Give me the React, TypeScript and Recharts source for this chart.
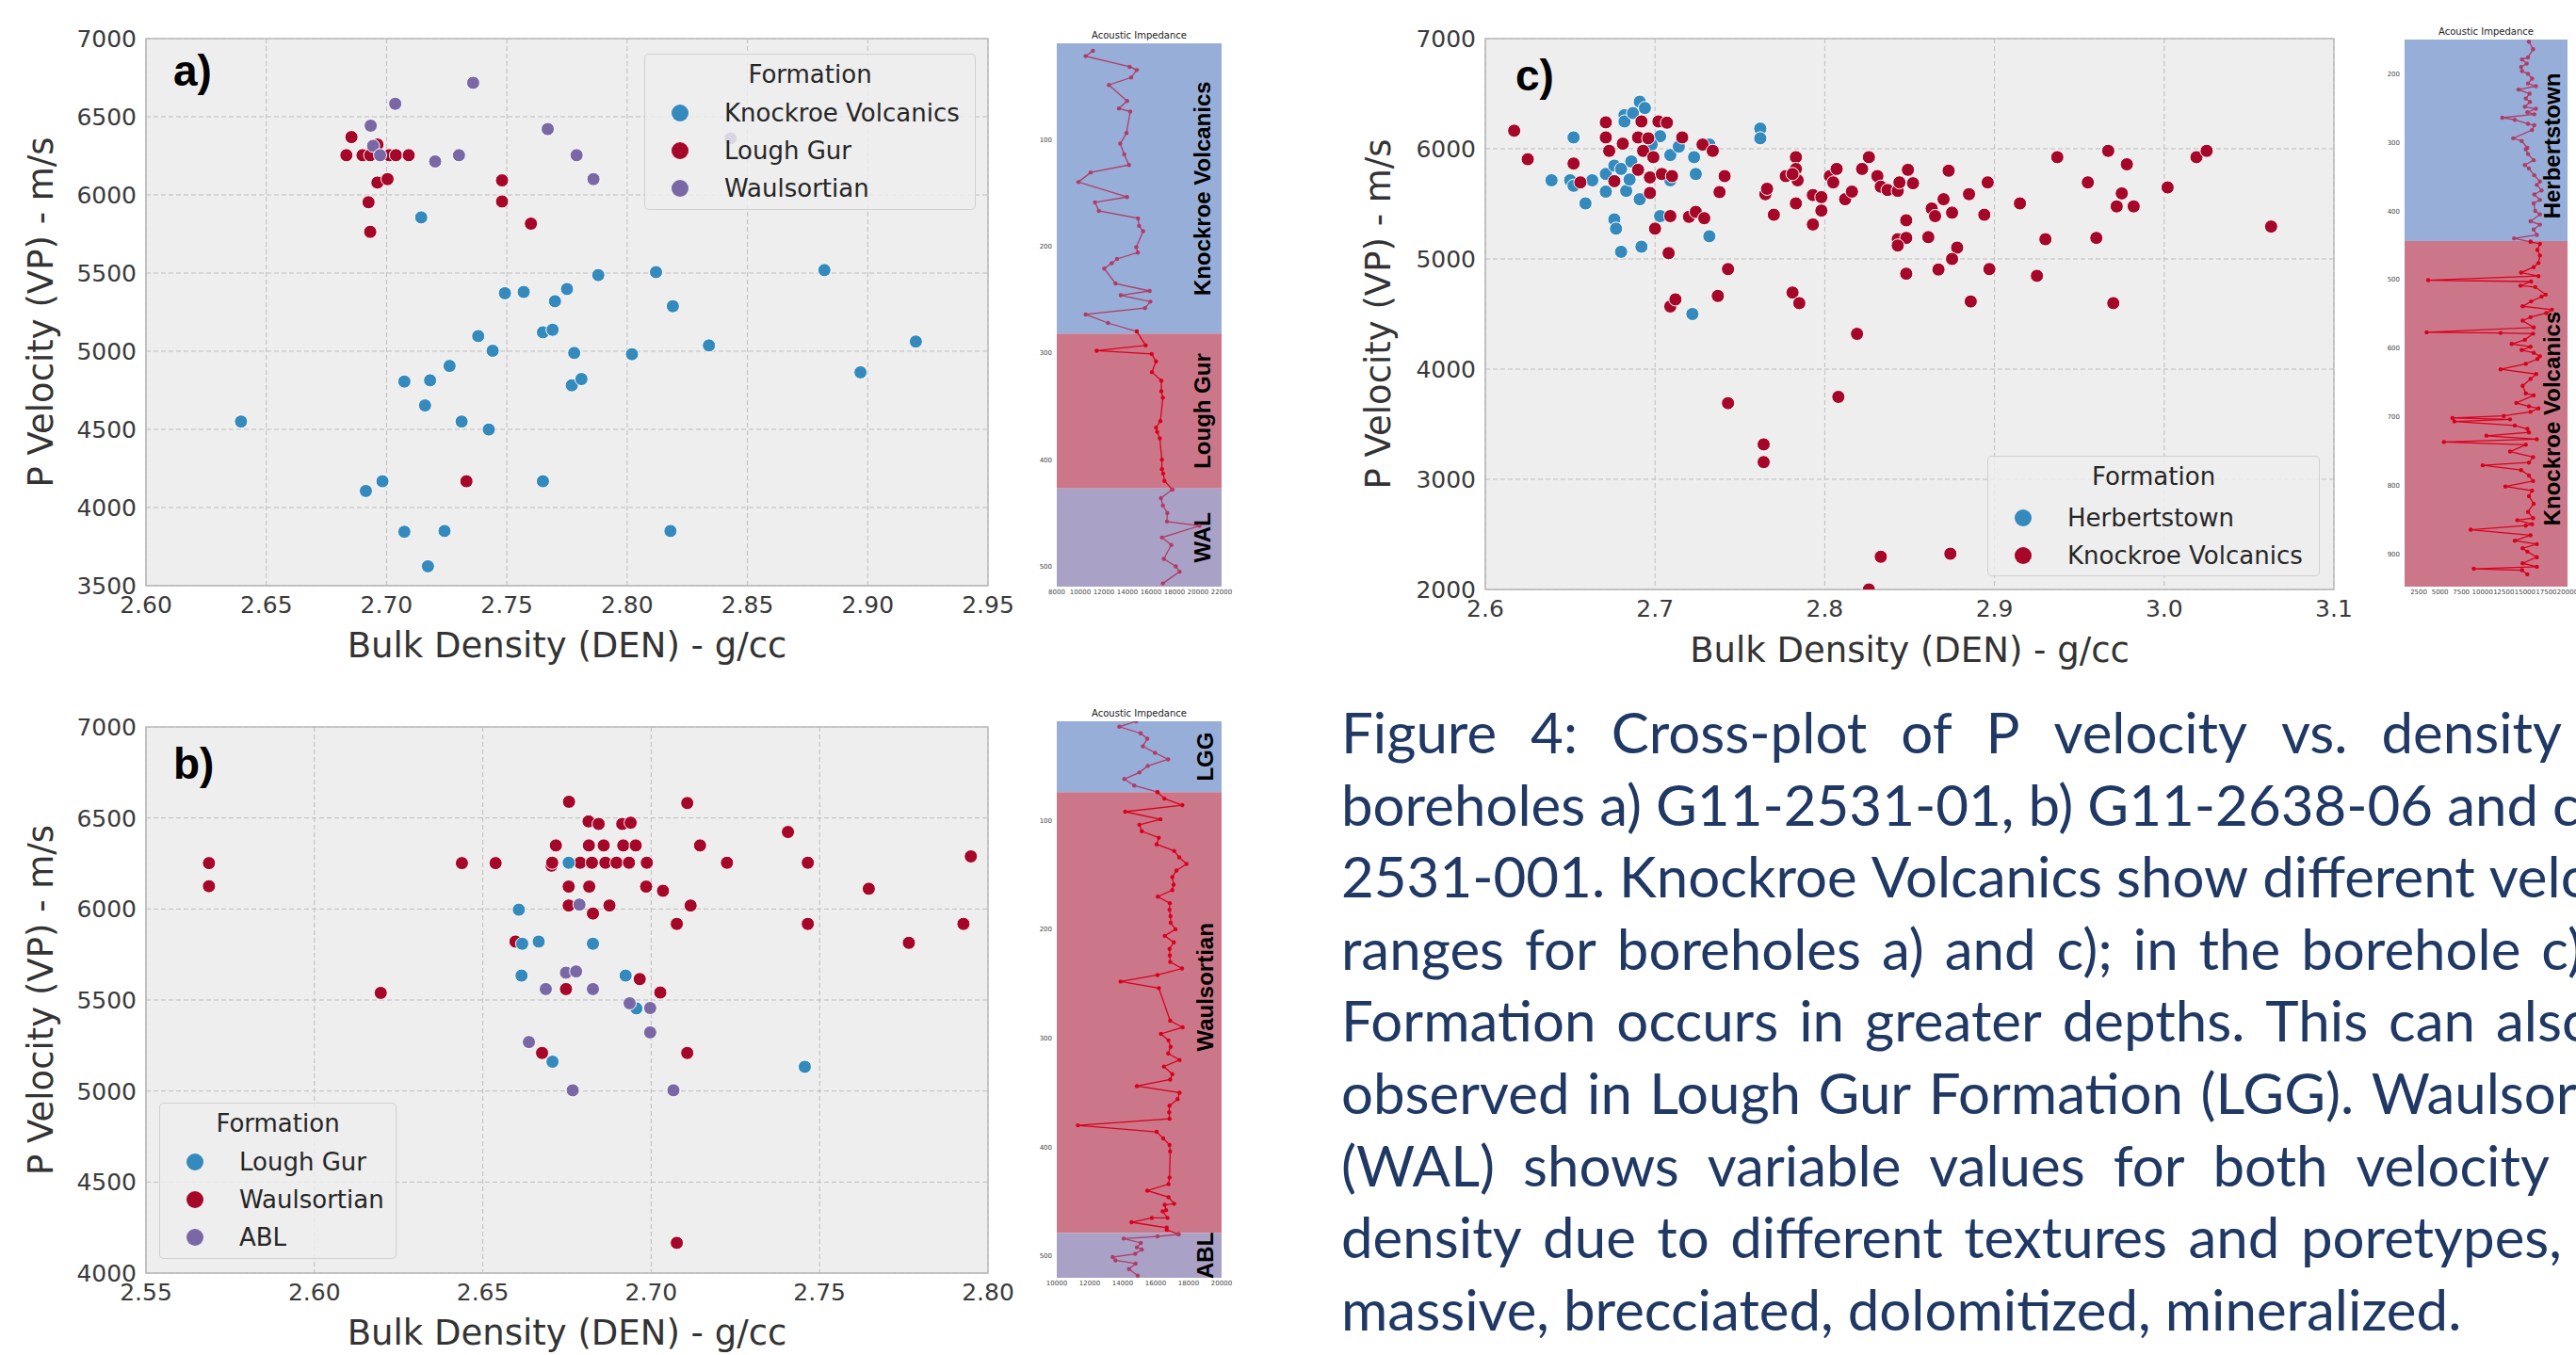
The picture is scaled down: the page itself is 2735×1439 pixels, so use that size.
import React from "react";
import {
  ScatterChart,
  Scatter,
  XAxis,
  YAxis,
  CartesianGrid,
  ReferenceArea,
  Legend,
} from "recharts";

// ---------- cross-plot a) G11-2531-01  [density g/cc, Vp m/s] ----------
const aKnockroe: [number, number][] = [
  [2.6395, 4550], [2.7144, 5856], [2.7492, 5371], [2.7381, 5097], [2.7441, 5003],
  [2.7262, 4906], [2.7074, 4806], [2.7181, 4814], [2.716, 4653], [2.7312, 4550],
  [2.7425, 4499], [2.6914, 4106], [2.6983, 4168], [2.7074, 3845], [2.7241, 3850],
  [2.7172, 3624], [2.757, 5379], [2.775, 5398], [2.77, 5320], [2.788, 5487],
  [2.812, 5506], [2.819, 5288], [2.765, 5121], [2.769, 5137], [2.778, 4989],
  [2.802, 4981], [2.834, 5037], [2.882, 5519], [2.92, 5062], [2.897, 4865],
  [2.777, 4782], [2.781, 4822], [2.765, 4168], [2.818, 3850],
];
const aLoughGur: [number, number][] = [
  [2.6854, 6370], [2.6833, 6254], [2.69, 6254], [2.6962, 6322], [2.7011, 6254],
  [2.7039, 6254], [2.7092, 6254], [2.6932, 6254], [2.6962, 6079], [2.7004, 6101],
  [2.6925, 5953], [2.6932, 5764], [2.7332, 4168], [2.748, 6093], [2.748, 5958],
  [2.76, 5816],
];
const aWaulsortian: [number, number][] = [
  [2.736, 6717], [2.7036, 6583], [2.6934, 6443], [2.6944, 6314], [2.6973, 6254],
  [2.7202, 6214], [2.7301, 6254], [2.767, 6421], [2.779, 6254], [2.786, 6101],
  [2.843, 6362],
];
const aDenTicks = [2.6, 2.65, 2.7, 2.75, 2.8, 2.85, 2.9, 2.95];
const aVpTicks = [3500, 4000, 4500, 5000, 5500, 6000, 6500, 7000];

// ---------- cross-plot b) G11-2638-06 ----------
const bLoughGur: [number, number][] = [
  [2.6755, 6254], [2.6607, 5996], [2.6617, 5809], [2.6666, 5821], [2.6827, 5809],
  [2.6615, 5634], [2.6924, 5634], [2.6956, 5454], [2.6707, 5161], [2.7456, 5133],
];
const bWaulsortian: [number, number][] = [
  [2.5687, 6252], [2.5687, 6125], [2.6197, 5539], [2.6438, 6252], [2.6538, 6252],
  [2.6597, 5821], [2.6756, 6589], [2.7107, 6582], [2.6814, 6481], [2.6844, 6467],
  [2.6914, 6467], [2.6939, 6474], [2.6717, 6349], [2.6815, 6349], [2.6859, 6349],
  [2.6917, 6349], [2.6954, 6349], [2.7145, 6349], [2.7406, 6423], [2.7949, 6289],
  [2.6704, 6238], [2.6706, 6254], [2.6789, 6254], [2.6824, 6254], [2.6864, 6254],
  [2.6897, 6254], [2.6934, 6254], [2.6987, 6254], [2.7225, 6254], [2.7465, 6254],
  [2.6755, 6123], [2.6816, 6123], [2.6985, 6123], [2.7035, 6100], [2.7646, 6111],
  [2.6755, 6019], [2.6876, 6019], [2.7117, 6019], [2.6827, 5975], [2.7076, 5918],
  [2.7465, 5918], [2.7927, 5918], [2.7765, 5814], [2.6747, 5560], [2.6966, 5615],
  [2.7027, 5541], [2.6676, 5209], [2.7107, 5209], [2.7076, 4166],
];
const bABL: [number, number][] = [
  [2.6787, 6024], [2.6747, 5650], [2.6777, 5657], [2.6687, 5560], [2.6827, 5560],
  [2.6936, 5482], [2.6997, 5456], [2.6997, 5322], [2.6637, 5269], [2.6767, 5004],
  [2.7066, 5004],
];
const bDenTicks = [2.55, 2.6, 2.65, 2.7, 2.75, 2.8];
const bVpTicks = [4000, 4500, 5000, 5500, 6000, 6500, 7000];

// ---------- cross-plot c) 2531-001 ----------
const cHerbertstown: [number, number][] = [
  [2.652, 6103], [2.639, 5714], [2.65, 5714], [2.652, 5664], [2.663, 5714],
  [2.659, 5504], [2.671, 5611], [2.671, 5771], [2.676, 5847], [2.68, 5817],
  [2.682, 6305], [2.682, 6248], [2.687, 6324], [2.691, 6427], [2.694, 6370],
  [2.683, 5618], [2.685, 5721], [2.686, 5885], [2.691, 5542], [2.676, 5359],
  [2.677, 5275], [2.68, 5065], [2.692, 5111], [2.703, 5389], [2.709, 5943],
  [2.703, 6114], [2.714, 6019], [2.723, 5924], [2.724, 5771], [2.732, 6038],
  [2.732, 5206], [2.722, 4500], [2.762, 6183], [2.762, 6095], [2.709, 5714],
  [2.698, 6038],
];
const cKnockroe: [number, number][] = [
  [2.617, 6164], [2.625, 5905], [2.652, 5866], [2.656, 5695], [2.671, 6240],
  [2.671, 6103], [2.673, 5981], [2.681, 6046], [2.69, 6103], [2.692, 6248],
  [2.69, 5809], [2.676, 5706], [2.693, 5981], [2.696, 6095], [2.699, 5924],
  [2.702, 6248], [2.707, 6237], [2.697, 5740], [2.697, 5599], [2.704, 5771],
  [2.71, 5752], [2.716, 6103], [2.728, 6038], [2.734, 5981], [2.7, 5275],
  [2.709, 5389], [2.72, 5382], [2.724, 5427], [2.729, 5370], [2.708, 5053],
  [2.741, 5752], [2.738, 5607], [2.743, 4908], [2.737, 4664], [2.709, 4569],
  [2.712, 4633], [2.743, 3691], [2.764, 3317], [2.764, 3156], [2.765, 5588],
  [2.766, 5637], [2.77, 5401], [2.777, 5752], [2.783, 5924], [2.783, 5817],
  [2.784, 5714], [2.783, 5504], [2.781, 5771], [2.781, 4695], [2.785, 4599],
  [2.793, 5313], [2.793, 5580], [2.798, 5561], [2.798, 5439], [2.803, 5752],
  [2.805, 5695], [2.807, 5817], [2.812, 5542], [2.816, 5611], [2.822, 5817],
  [2.826, 5924], [2.831, 5752], [2.833, 5656], [2.837, 5626], [2.843, 5618],
  [2.844, 5695], [2.849, 5809], [2.852, 5687], [2.848, 5351], [2.843, 5179],
  [2.848, 5191], [2.843, 5122], [2.848, 4866], [2.861, 5198], [2.863, 5458],
  [2.865, 5389], [2.87, 5542], [2.873, 5801], [2.875, 5420], [2.878, 5103],
  [2.875, 5000], [2.867, 4904], [2.885, 5588], [2.896, 5695], [2.894, 5401],
  [2.897, 4908], [2.886, 4614], [2.915, 5504], [2.925, 4847], [2.93, 5179],
  [2.937, 5924], [2.955, 5695], [2.96, 5191], [2.967, 5981], [2.97, 4599],
  [2.972, 5477], [2.975, 5595], [2.978, 5859], [2.982, 5477], [3.002, 5649],
  [3.019, 5924], [3.025, 5981], [3.063, 5294], [2.819, 4320], [2.808, 3748],
  [2.833, 2297], [2.874, 2324], [2.826, 2000],
];
const cDenTicks = [2.6, 2.7, 2.8, 2.9, 3.0, 3.1];
const cVpTicks = [2000, 3000, 4000, 5000, 6000, 7000];

// ---------- acoustic impedance logs  [depth, AI] ----------
const logAKnockroe: [number, number][] = [
  [17, 11070], [22, 10450], [32, 14190], [35, 14800], [42, 14320], [49, 12430],
  [64, 13970], [71, 13280], [74, 14240], [94, 13920], [104, 13390], [114, 13730],
  [124, 14130], [131, 10880], [140, 9840], [154, 13970], [159, 11250], [167, 11570],
  [174, 14900], [181, 14990], [186, 15330], [201, 14750], [206, 14880], [212, 13120],
  [216, 12670], [221, 12030], [235, 12990], [242, 15890], [246, 13440], [252, 15950],
  [258, 15490], [264, 10450], [272, 12350], [280, 14800],
];
const logALoughGur: [number, number][] = [
  [280, 14800], [293, 15550], [298, 11390], [301, 16060], [308, 16430], [318, 16080],
  [326, 16880], [336, 16880], [342, 17010], [364, 16800], [370, 16430], [374, 16530],
  [380, 16750], [400, 16930], [409, 16930], [413, 17040], [420, 17150], [428, 17810],
];
const logAWal: [number, number][] = [
  [428, 17810], [436, 16850], [443, 17010], [450, 17390], [458, 17360], [462, 20130],
  [473, 16930], [480, 17730], [493, 17090], [500, 18110], [505, 18430], [516, 17010],
];
const logADepthTicks = [100, 200, 300, 400, 500];
const logAAiTicks = [8000, 10000, 12000, 14000, 16000, 18000, 20000, 22000];

const logBLgg: [number, number][] = [
  [9, 14820], [14, 13790], [20, 15090], [25, 15490], [32, 15220], [38, 15960],
  [44, 16760], [50, 15520], [56, 15010], [62, 14100], [68, 14700], [74, 16110],
];
const logBWaulsortian: [number, number][] = [
  [74, 16110], [80, 16530], [86, 17620], [92, 14150], [99, 16290], [104, 15010],
  [110, 15160], [116, 16190], [122, 16060], [128, 17120], [134, 17430], [140, 17870],
  [146, 17260], [152, 17010], [159, 17090], [164, 17010], [170, 16130], [176, 16860],
  [182, 16840], [188, 16900], [194, 16910], [200, 17200], [206, 16550], [212, 17100],
  [218, 16840], [224, 16860], [230, 16880], [236, 17600], [242, 16110], [248, 13870],
  [254, 16190], [284, 16880], [290, 17640], [296, 16320], [302, 16780], [308, 16910],
  [314, 16760], [320, 17450], [326, 16500], [333, 17010], [338, 16880], [344, 14860],
  [350, 17450], [356, 17330], [362, 16840], [368, 16820], [374, 16840], [380, 11280],
  [386, 16060], [392, 16460], [398, 16840], [404, 16880], [428, 16840], [434, 16780],
  [440, 15490], [446, 16780], [452, 17120], [453, 16550], [458, 16630], [459, 16420],
  [465, 16720], [465, 15770], [469, 14530], [474, 16670], [476, 16670], [480, 17390],
];
const logBAbl: [number, number][] = [
  [480, 17390], [482, 16110], [484, 14060], [488, 15100], [492, 14860], [494, 15160],
  [498, 14760], [501, 13390], [504, 13560], [507, 14780], [512, 14380], [518, 14910],
];
const logBDepthTicks = [100, 200, 300, 400, 500];
const logBAiTicks = [10000, 12000, 14000, 16000, 18000, 20000];

const logCHerbertstown: [number, number][] = [
  [153, 15460], [164, 15950], [176, 15350], [179, 14650], [185, 15200], [190, 14540],
  [196, 14650], [200, 15350], [207, 15830], [214, 15350], [218, 16280], [223, 14240],
  [229, 15540], [236, 15090], [241, 15580], [248, 14980], [251, 16280], [256, 15280],
  [259, 16090], [264, 12320], [267, 13800], [273, 15350], [275, 16090], [282, 15830],
  [294, 13610], [298, 14610], [308, 15280], [310, 15090], [317, 15350], [326, 16020],
  [333, 14980], [338, 15460], [348, 16090], [357, 16760], [362, 16390], [370, 16950],
  [376, 16090], [384, 16760], [389, 16020], [400, 16200], [405, 16760], [415, 15650],
  [420, 16760], [427, 16020], [435, 16390], [440, 13720], [445, 15650],
];
const logCKnockroe: [number, number][] = [
  [445, 15650], [448, 16760], [457, 16460], [465, 16760], [476, 16580], [482, 16020],
  [490, 14540], [495, 16580], [501, 3610], [503, 15720], [509, 14460], [511, 16200],
  [522, 17430], [525, 16950], [532, 15720], [539, 14720], [544, 18170], [549, 17500],
  [555, 15650], [560, 14720], [570, 16020], [577, 3430], [578, 12130], [579, 15950],
  [588, 14980], [594, 13430], [598, 15650], [603, 14610], [607, 16020], [612, 16760],
  [616, 16460], [623, 15090], [631, 12130], [638, 16320], [645, 15650], [655, 14720],
  [666, 15090], [669, 16020], [680, 13980], [685, 15460], [688, 16580], [693, 15650],
  [699, 12500], [702, 6460], [704, 13240], [707, 6690], [713, 13800], [718, 15280],
  [723, 15460], [728, 10460], [733, 16390], [737, 5460], [741, 15090], [751, 13240],
  [759, 15950], [767, 15460], [771, 10020], [778, 14540], [786, 15460], [794, 15950],
  [802, 12690], [808, 15830], [816, 15460], [827, 16020], [839, 15350], [848, 15950],
  [851, 14090], [857, 15830], [859, 15090], [865, 8610], [873, 15650], [881, 13800],
  [886, 16390], [892, 14720], [897, 15280], [905, 16390], [914, 14720], [919, 16390],
  [922, 8980], [924, 14650], [930, 15280],
];
const logCDepthTicks = [200, 300, 400, 500, 600, 700, 800, 900];
const logCAiTicks = [2500, 5000, 7500, 10000, 12500, 15000, 17500, 20000];

const captionLines = [
  "Figure 4: Cross-plot of P velocity vs. density",
  "boreholes a) G11-2531-01, b) G11-2638-06 and c)",
  "2531-001. Knockroe Volcanics show different velocity",
  "ranges for boreholes a) and c); in the borehole c)",
  "Formation occurs in greater depths. This can also",
  "observed in Lough Gur Formation (LGG). Waulsortian",
  "(WAL) shows variable values for both velocity",
  "density due to different textures and poretypes,",
  "massive, brecciated, dolomitized, mineralized.",
];
const captionRight = [2720, 2742, 2826, 2742, 2754, 2836, 2707, 2720, 0];

const BLUE = "#348abd";
const RED = "#a60628";
const PURPLE = "#7a68a6";
const BAND_BLUE = "#97aed8";
const BAND_RED = "#cc7789";
const BAND_PURPLE = "#aaa1c6";
const LINE_MAROON = "#b03c66";
const LINE_RED = "#d9001c";
const FONT = "DejaVu Sans";

const toPts = (rows: [number, number][]) => rows.map(([den, vp]) => ({ den, vp }));
const toLog = (rows: [number, number][]) => rows.map(([depth, ai]) => ({ depth, ai }));

const dot = (color: string) => (p: any) =>
  <circle cx={p.cx} cy={p.cy} r={7} fill={color} stroke="#fff" strokeWidth={1} />;
const logDot = (color: string) => (p: any) =>
  <circle cx={p.cx} cy={p.cy} r={2.2} fill={color} />;

interface Series { name: string; color: string; rows: [number, number][] }

function FormationLegend({ items, width, height }: { items: Series[]; width: number; height: number }) {
  return (
    <div style={{
      position: "relative", width, height, boxSizing: "border-box",
      background: "rgba(238,238,238,0.82)", border: "1px solid rgba(205,205,205,0.9)",
      borderRadius: 5, fontFamily: FONT, color: "#262626", fontSize: 26,
    }}>
      <div style={{ position: "absolute", top: 6, width: "100%", textAlign: "center", lineHeight: "30px" }}>
        Formation
      </div>
      {items.map((s, i) => (
        <div key={s.name} style={{ position: "absolute", top: 46 + i * 40 - (height < 140 ? -3 : 0), left: 0, height: 32, width: "100%" }}>
          <span style={{ position: "absolute", left: 28, top: 7, width: 18, height: 18, borderRadius: 9, background: s.color }} />
          <span style={{ position: "absolute", left: 84, top: 0, lineHeight: "32px", whiteSpace: "nowrap" }}>{s.name}</span>
        </div>
      ))}
    </div>
  );
}

interface CrossPlotProps {
  left: number; top: number; width: number; height: number;
  yAxisWidth: number; xAxisHeight: number; marginTop: number; marginRight: number;
  denDomain: [number, number]; vpDomain: [number, number];
  denTicks: number[]; vpTicks: number[]; digits: number;
  draw: Series[]; legend: Series[];
  legendBox: { left: number; top: number; width: number; height: number };
  yTitleX: number; xTitleY: number;
}

function CrossPlot(p: CrossPlotProps) {
  const plotCx = p.yAxisWidth + (p.width - p.yAxisWidth - p.marginRight) / 2;
  const plotCy = p.marginTop + (p.height - p.marginTop - p.xAxisHeight) / 2;
  return (
    <div style={{ position: "absolute", left: p.left, top: p.top }}>
      <ScatterChart width={p.width} height={p.height}
        margin={{ top: p.marginTop, right: p.marginRight, bottom: 0, left: 0 }}>
        <CartesianGrid fill="#eeeeee" stroke="#bdbdbd" strokeDasharray="5 3" />
        <XAxis type="number" dataKey="den" domain={p.denDomain} ticks={p.denTicks}
          allowDataOverflow height={p.xAxisHeight} tickSize={0} tickMargin={11}
          axisLine={{ stroke: "#bcbcbc" }} interval={0}
          tickFormatter={(v: number) => v.toFixed(p.digits)}
          tick={{ fontSize: 25, fill: "#3a3a3a", fontFamily: FONT }}
          label={{ content: () => (
            <text x={plotCx} y={p.xTitleY} textAnchor="middle" dominantBaseline="central"
              fontSize={37} fill="#333" fontFamily={FONT}>Bulk Density (DEN) - g/cc</text>
          ) }} />
        <YAxis type="number" dataKey="vp" domain={p.vpDomain} ticks={p.vpTicks}
          allowDataOverflow width={p.yAxisWidth} tickSize={0} tickMargin={10}
          axisLine={{ stroke: "#bcbcbc" }} interval={0}
          tick={{ fontSize: 25, fill: "#3a3a3a", fontFamily: FONT }}
          label={{ content: () => (
            <text x={p.yTitleX} y={plotCy} transform={`rotate(-90 ${p.yTitleX} ${plotCy})`}
              textAnchor="middle" dominantBaseline="central" fontSize={37} fill="#333"
              fontFamily={FONT}>P Velocity (VP) - m/s</text>
          ) }} />
        <ReferenceArea x1={p.denDomain[0]} x2={p.denDomain[1]} y1={p.vpDomain[0]} y2={p.vpDomain[1]}
          fill="none" stroke="#bcbcbc" strokeWidth={1.5} />
        {p.draw.map((s) => (
          <Scatter key={s.name} name={s.name} data={toPts(s.rows)} fill={s.color}
            shape={dot(s.color)} isAnimationActive={false} />
        ))}
        <Legend layout="vertical" align="center" verticalAlign="middle"
          wrapperStyle={{ left: p.legendBox.left, top: p.legendBox.top, bottom: "auto", width: p.legendBox.width, height: p.legendBox.height }}
          content={() => <FormationLegend items={p.legend} width={p.legendBox.width} height={p.legendBox.height} />} />
      </ScatterChart>
    </div>
  );
}

interface Band { name: string; from: number; to: number; fill: string; line: string; rows: [number, number][]; shift?: number }

interface LogProps {
  left: number; top: number; width: number; height: number;
  marginTop: number; marginRight: number; yAxisWidth: number; xAxisHeight: number;
  depthDomain: [number, number]; aiDomain: [number, number];
  depthTicks: number[]; aiTicks: number[]; bands: Band[]; labelInset: number;
}

function ImpedanceLog(p: LogProps) {
  const plotCx = p.yAxisWidth + (p.width - p.yAxisWidth - p.marginRight) / 2;
  return (
    <div style={{ position: "absolute", left: p.left, top: p.top }}>
      <div style={{
        position: "absolute", left: plotCx - 60, top: p.marginTop - 13, width: 120,
        textAlign: "center", fontFamily: FONT, fontSize: 10, lineHeight: "10px", color: "#222",
      }}>Acoustic Impedance</div>
      <ScatterChart width={p.width} height={p.height}
        margin={{ top: p.marginTop, right: p.marginRight, bottom: 0, left: 0 }}>
        <XAxis type="number" dataKey="ai" domain={p.aiDomain} ticks={p.aiTicks} interval={0}
          allowDataOverflow height={p.xAxisHeight} tickSize={0} tickMargin={3} axisLine={false}
          tick={{ fontSize: 7, fill: "#444", fontFamily: FONT }} />
        <YAxis type="number" dataKey="depth" domain={p.depthDomain} ticks={p.depthTicks} interval={0}
          reversed allowDataOverflow width={p.yAxisWidth} tickSize={0} tickMargin={5} axisLine={false}
          tick={{ fontSize: 7, fill: "#444", fontFamily: FONT }} />
        {p.bands.map((b) => (
          <ReferenceArea key={b.name} y1={b.from} y2={b.to} fill={b.fill} fillOpacity={1}
            stroke="none"
            label={{ content: (lp: any) => {
              const vb = lp.viewBox || {};
              const x = vb.x + vb.width - p.labelInset;
              const y = vb.y + vb.height / 2 + (b.shift || 0);
              return (
                <text x={x} y={y} transform={`rotate(-90 ${x} ${y})`} textAnchor="middle"
                  fontSize={24} fontWeight="bold" fontFamily="Liberation Sans" fill="#000">{b.name}</text>
              );
            } }} />
        ))}
        {p.bands.map((b) => (
          <Scatter key={b.name + "-log"} data={toLog(b.rows)} fill={b.line}
            line={{ stroke: b.line, strokeWidth: 1.3 }} lineType="joint"
            shape={logDot(b.line)} isAnimationActive={false} />
        ))}
      </ScatterChart>
    </div>
  );
}

const panelLetter = (text: string, left: number, top: number) => (
  <div style={{
    position: "absolute", left, top, fontFamily: "Liberation Sans", fontWeight: "bold",
    fontSize: 46, lineHeight: "46px", color: "#000",
  }}>{text}</div>
);

export default function App() {
  const aSeries: Series[] = [
    { name: "Knockroe Volcanics", color: BLUE, rows: aKnockroe },
    { name: "Lough Gur", color: RED, rows: aLoughGur },
    { name: "Waulsortian", color: PURPLE, rows: aWaulsortian },
  ];
  const bLegend: Series[] = [
    { name: "Lough Gur", color: BLUE, rows: bLoughGur },
    { name: "Waulsortian", color: RED, rows: bWaulsortian },
    { name: "ABL", color: PURPLE, rows: bABL },
  ];
  const bDraw = [bLegend[1], bLegend[0], bLegend[2]];
  const cSeries: Series[] = [
    { name: "Herbertstown", color: BLUE, rows: cHerbertstown },
    { name: "Knockroe Volcanics", color: RED, rows: cKnockroe },
  ];

  return (
    <div style={{
      position: "absolute", left: 0, top: 0, width: 2735, height: 1439,
      overflow: "hidden", background: "#fff",
    }}>
      <CrossPlot left={0} top={0} width={1080} height={720} yAxisWidth={155} xAxisHeight={98}
        marginTop={41} marginRight={31} denDomain={[2.6, 2.95]} vpDomain={[3500, 7000]}
        denTicks={aDenTicks} vpTicks={aVpTicks} digits={2} draw={aSeries} legend={aSeries}
        legendBox={{ left: 684, top: 57, width: 352, height: 166 }} yTitleX={43} xTitleY={685} />
      <CrossPlot left={0} top={730} width={1080} height={709} yAxisWidth={155} xAxisHeight={87}
        marginTop={42} marginRight={31} denDomain={[2.55, 2.8]} vpDomain={[4000, 7000]}
        denTicks={bDenTicks} vpTicks={bVpTicks} digits={2} draw={bDraw} legend={bLegend}
        legendBox={{ left: 169, top: 441, width: 252, height: 166 }} yTitleX={43} xTitleY={685} />
      <CrossPlot left={1390} top={0} width={1110} height={720} yAxisWidth={187} xAxisHeight={94}
        marginTop={41} marginRight={22} denDomain={[2.6, 3.1]} vpDomain={[2000, 7000]}
        denTicks={cDenTicks} vpTicks={cVpTicks} digits={1} draw={cSeries} legend={cSeries}
        legendBox={{ left: 720, top: 484, width: 353, height: 128 }} yTitleX={73} xTitleY={690} />

      {panelLetter("a)", 184, 52)}
      {panelLetter("b)", 184, 788)}
      {panelLetter("c)", 1609, 57)}

      <ImpedanceLog left={1080} top={20} width={240} height={640} marginTop={26} marginRight={23}
        yAxisWidth={42} xAxisHeight={37} depthDomain={[10, 519]} aiDomain={[8000, 22000]}
        depthTicks={logADepthTicks} aiTicks={logAAiTicks} labelInset={12}
        bands={[
          { name: "Knockroe Volcanics", from: 10, to: 282, fill: BAND_BLUE, line: LINE_MAROON, rows: logAKnockroe },
          { name: "Lough Gur", from: 282, to: 427, fill: BAND_RED, line: LINE_RED, rows: logALoughGur },
          { name: "WAL", from: 427, to: 519, fill: BAND_PURPLE, line: LINE_MAROON, rows: logAWal },
        ]} />
      <ImpedanceLog left={1080} top={740} width={240} height={660} marginTop={26} marginRight={23}
        yAxisWidth={42} xAxisHeight={43} depthDomain={[9, 520]} aiDomain={[10000, 20000]}
        depthTicks={logBDepthTicks} aiTicks={logBAiTicks} labelInset={9}
        bands={[
          { name: "LGG", from: 9, to: 74, fill: BAND_BLUE, line: LINE_MAROON, rows: logBLgg },
          { name: "Waulsortian", from: 74, to: 479, fill: BAND_RED, line: LINE_RED, rows: logBWaulsortian, shift: -27 },
          { name: "ABL", from: 479, to: 520, fill: BAND_PURPLE, line: LINE_MAROON, rows: logBAbl },
        ]} />
      <ImpedanceLog left={2510} top={20} width={225} height={640} marginTop={22} marginRight={9}
        yAxisWidth={43} xAxisHeight={37} depthDomain={[150, 948]} aiDomain={[833, 20000]}
        depthTicks={logCDepthTicks} aiTicks={logCAiTicks} labelInset={8}
        bands={[
          { name: "Herbertstown", from: 150, to: 444, fill: BAND_BLUE, line: LINE_MAROON, rows: logCHerbertstown, shift: 6 },
          { name: "Knockroe Volcanics", from: 444, to: 948, fill: BAND_RED, line: LINE_RED, rows: logCKnockroe, shift: 5 },
        ]} />

      {captionLines.map((line, i) => {
        const last = i === captionLines.length - 1;
        return (
          <div key={i} style={{
            position: "absolute", left: 1424, top: 739 + i * 76.6,
            width: last ? "auto" : captionRight[i] - 1424,
            display: "flex", justifyContent: last ? "flex-start" : "space-between",
            gap: 15, whiteSpace: "nowrap",
            fontFamily: "Lato", fontSize: 60, lineHeight: "76.6px", color: "#1f3864",
          }}>
            {line.split(" ").map((w, j) => <span key={j} style={{ flexShrink: 0 }}>{w}</span>)}
          </div>
        );
      })}
    </div>
  );
}
